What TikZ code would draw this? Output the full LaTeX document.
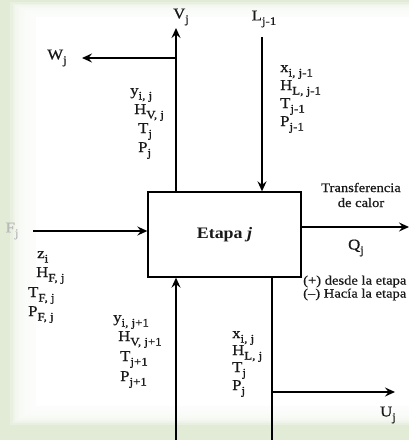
\documentclass[tikz,border=0pt]{standalone}
\usepackage{fontspec}
\setmainfont{Liberation Serif}[FakeStretch=1.12, UprightFeatures={FakeBold=0.7}]
\usetikzlibrary{arrows.meta}
\definecolor{bggreen}{RGB}{226,235,214}
\definecolor{txt}{RGB}{25,25,25}
\newcommand\sbx[1]{\raisebox{-0.3em}{\fontsize{11.5}{12}\selectfont #1}}
\begin{document}
\begin{tikzpicture}[x=1pt,y=-1pt,
  flow/.style={line width=1.6pt,-{Stealth[length=10pt,width=9pt,inset=3.5pt]}},
  plain/.style={line width=1.6pt},
  lbl/.style={inner sep=0pt,text=txt,font=\fontsize{15}{19}\selectfont},
  lbll/.style={lbl,anchor=base west},
  note/.style={inner sep=0pt,text=txt,font=\fontsize{13}{15}\selectfont,align=center}
]
\useasboundingbox (0,0) rectangle (409,440);
% background
\fill[bggreen] (0,0) rectangle (409,440);
\foreach \k in {0,...,9} \fill[white,fill opacity=0.28] ({10+2.5*\k},{2+1.5*\k}) rectangle (409,{425-1.8*\k});
\fill[white] (36,17) rectangle (409,406);

% box
\node[draw=black,line width=1.3pt,fill=white,minimum width=153pt,minimum height=85pt,inner sep=0pt,
  text=txt,font=\fontsize{16}{18}\selectfont\bfseries] (box) at (224.5,234.5) {Etapa \textit{j}};

% coordinates
\coordinate (vtop) at (176,28);
\coordinate (wj) at (176,58);
\coordinate (wend) at (82,58);
\coordinate (ltop) at (262,37);
\coordinate (qend) at (409,227);
\coordinate (fstart) at (33,231);
\coordinate (vbot) at (176,440);
\coordinate (lbot) at (272,440);
\coordinate (uj) at (272,392);
\coordinate (uend) at (395,392);

% connectors
\draw[flow] (box.north -| vtop) -- (vtop);
\draw[flow] (wj) -- (wend);
\draw[flow] (ltop) -- (ltop |- box.north);
\draw[flow] (box.east |- qend) -- (qend);
\draw[flow] (fstart) -- (fstart -| box.west);
\draw[flow] (vbot) -- (vbot |- box.south);
\draw[plain] (box.south -| lbot) -- (lbot);
\draw[flow] (uj) -- (uend);

% stream names
\node[lbl] (vjl) at (181,17) {V\sbx{j}};
\node[lbl] (wjl) at (57,58) {W\sbx{j}};
\node[lbl] (ljl) at (264,19) {L\sbx{j-1}};
\node[lbl] (qjl) at (356,248) {Q\sbx{j}};
\node[lbl] (ujl) at (388,415) {U\sbx{j}};
\node[lbl,text=gray!55] (fjl) at (12,231) {F\sbx{j}};

% top-left stack
\node[lbll] (a1) at (130,95) {y\sbx{i, j}};
\node[lbll] (a2) at (134,114) {H\sbx{V, j}};
\node[lbll] (a3) at (138,133) {T\sbx{j}};
\node[lbll] (a4) at (138,152) {P\sbx{j}};
% top-right stack
\node[lbll] (b1) at (280,72) {x\sbx{i, j-1}};
\node[lbll] (b2) at (280,90) {H\sbx{L, j-1}};
\node[lbll] (b3) at (280,108) {T\sbx{j-1}};
\node[lbll] (b4) at (280,126) {P\sbx{j-1}};
% feed stack
\node[lbll] (c1) at (37,258) {z\sbx{i}};
\node[lbll] (c2) at (36,277) {H\sbx{F, j}};
\node[lbll] (c3) at (28,297) {T\sbx{F, j}};
\node[lbll] (c4) at (28,316) {P\sbx{F, j}};
% bottom-left stack
\node[lbll] (d1) at (113,322) {y\sbx{i, j+1}};
\node[lbll] (d2) at (118,341) {H\sbx{V, j+1}};
\node[lbll] (d3) at (120,361) {T\sbx{j+1}};
\node[lbll] (d4) at (120,381) {P\sbx{j+1}};
% bottom-right stack
\node[lbll] (e1) at (232,338) {x\sbx{i, j}};
\node[lbll] (e2) at (232,355) {H\sbx{L, j}};
\node[lbll] (e3) at (232,372) {T\sbx{j}};
\node[lbll] (e4) at (232,390) {P\sbx{j}};

% notes
\node[note] (tc) at (361,195) {Transferencia\\de calor};
\node[note,anchor=west,align=left,font=\fontsize{13}{13}\selectfont] (sg) at (303,288) {(+) desde la etapa\\(–) Hacía la etapa};
\end{tikzpicture}
\end{document}
